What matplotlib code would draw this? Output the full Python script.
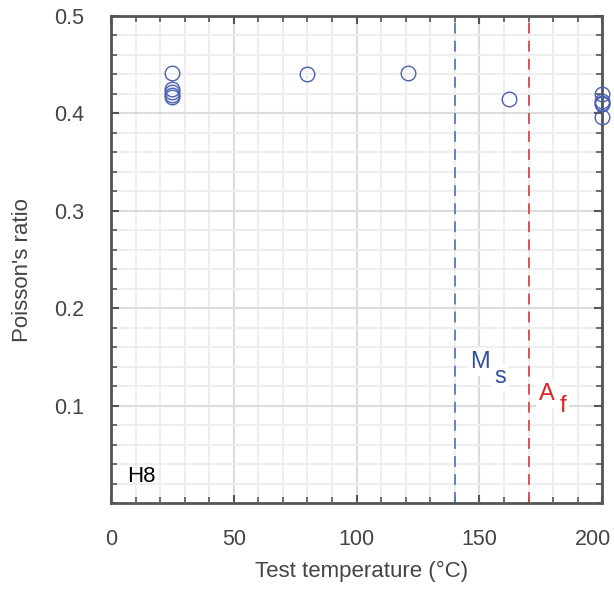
import matplotlib
matplotlib.use("Agg")
import matplotlib.pyplot as plt
from matplotlib.ticker import MultipleLocator

plt.rcParams['font.family'] = ['Liberation Sans', 'DejaVu Sans']

# data
temps = [25, 25, 25, 25, 25, 80, 121, 162, 200, 200, 200, 200, 200]
nu = [0.441, 0.425, 0.422, 0.419, 0.417, 0.440, 0.441, 0.415,
      0.420, 0.413, 0.411, 0.410, 0.396]
ms_temp = 140
af_temp = 170
sample = 'H8'
xticks = [0, 50, 100, 150, 200]
yticks = [0.1, 0.2, 0.3, 0.4, 0.5]

fig = plt.figure(figsize=(6.14, 5.99), dpi=100)
ax = fig.add_axes([0.1808, 0.1603, 0.8, 0.813])

ax.set_xlim(0, 200)
ax.set_ylim(0, 0.5)
ax.set_xticks(xticks)
# the last label is drawn by hand below, a little left of its tick as in the original
ax.set_xticklabels([str(t) for t in xticks[:-1]] + [''])
ax.xaxis.set_minor_locator(MultipleLocator(10))
ax.set_yticks(yticks)
ax.set_yticklabels([f'{t:.1f}' for t in yticks])
ax.yaxis.set_minor_locator(MultipleLocator(0.02))

ax.grid(which='minor', color='#eeeeee', lw=1.5, zorder=0)
ax.grid(which='major', color='#dcdcdc', lw=1.5, zorder=0)
ax.set_axisbelow(True)

ax.tick_params(which='both', direction='in', top=True, right=True, colors='#555555',
               labelcolor='#444444', labelsize=15.5)
ax.tick_params(which='major', length=6, width=1.5, pad=19)
ax.tick_params(which='minor', length=4, width=1.2)
for s in ax.spines.values():
    s.set_color('#555555')
    s.set_linewidth(2)

ax.annotate(str(xticks[-1]), xy=(xticks[-1], 0), xycoords='data',
            xytext=(-9, -26), textcoords='offset pixels',
            color='#444444', fontsize=15.5, ha='center', va='top',
            annotation_clip=False)

ax.axvline(ms_temp, color='#5a78c0', ls=(0, (6, 4)), lw=1.3, zorder=2)
ax.axvline(af_temp, color='#d9454a', ls=(0, (6, 4)), lw=1.3, zorder=2)

ax.plot(temps, nu, 'o', mfc='none', mec='#4a5fb0', ms=10.5, mew=1.0,
        clip_on=False, zorder=3)

box = dict(facecolor='white', edgecolor='none', pad=2)
ax.text(150.3, 0.145, 'M', color='#2e4fa0', fontsize=17, ha='center', va='center', bbox=box)
ax.text(158.3, 0.129, 's', color='#2e4fa0', fontsize=17, ha='center', va='center', bbox=box)
ax.text(177.5, 0.112, 'A', color='#e02020', fontsize=17, ha='center', va='center', bbox=box)
ax.text(184.0, 0.100, 'f', color='#e02020', fontsize=17, ha='center', va='center', bbox=box)
ax.text(6.5, 0.027, sample, color='black', fontsize=16, ha='left', va='center')

ax.set_xlabel('Test temperature (°C)', fontsize=16, color='#444444')
ax.set_ylabel("Poisson's ratio", fontsize=16, color='#444444')
ax.xaxis.set_label_coords(0.51, -0.118)
ax.yaxis.set_label_coords(-0.158, 0.478)

fig.savefig('out.png', dpi=100)
